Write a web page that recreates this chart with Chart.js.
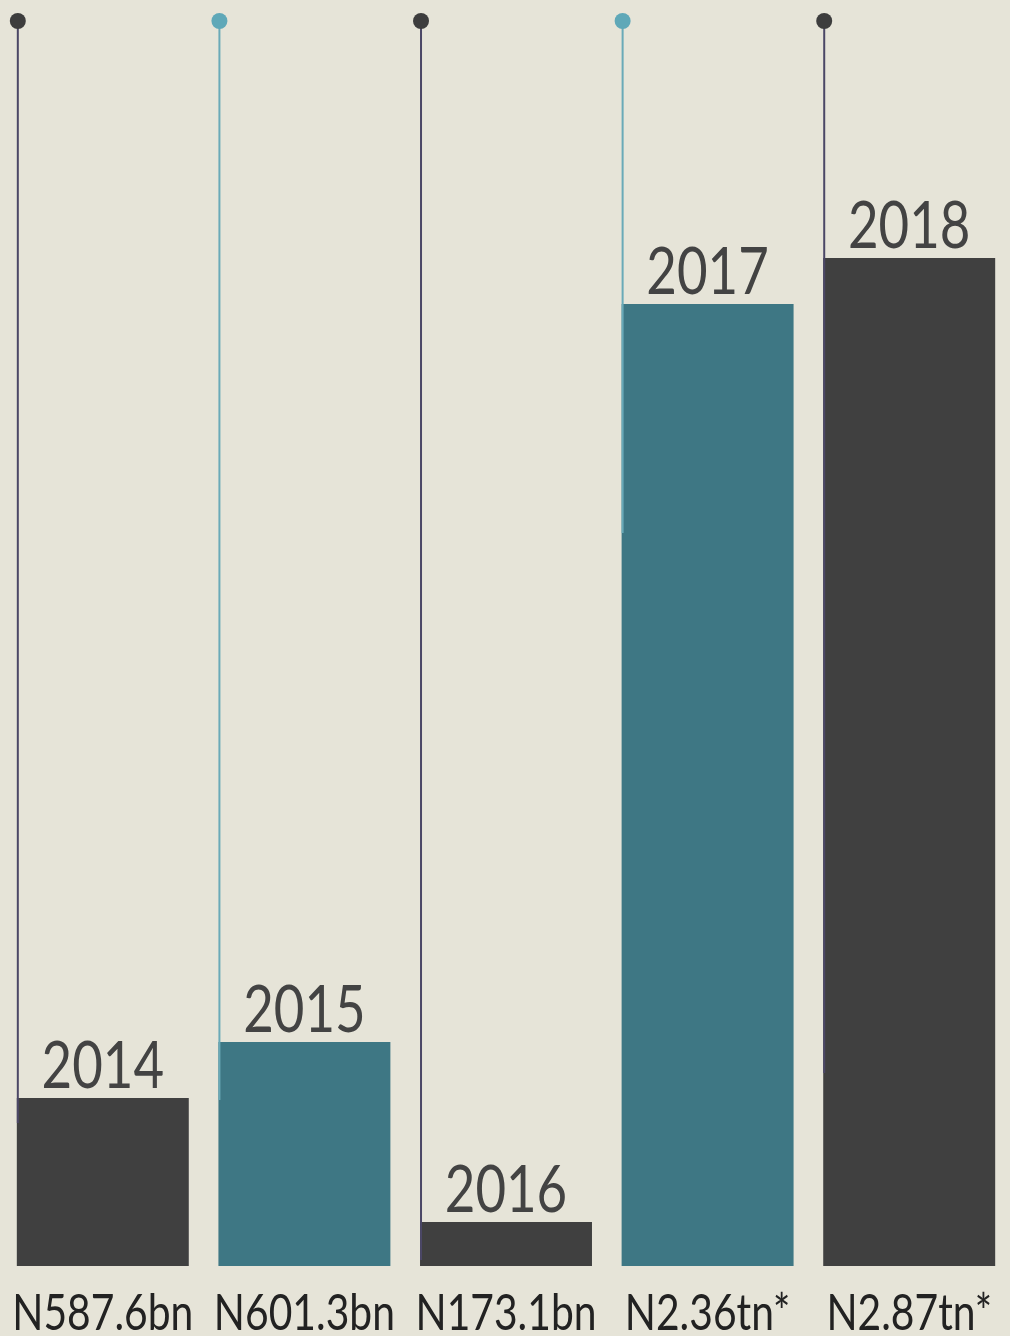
<!DOCTYPE html>
<html>
<head>
<meta charset="utf-8">
<script src="https://cdn.jsdelivr.net/npm/chart.js@4.4.1/dist/chart.umd.min.js"></script>
<style>
    html, body { margin: 0; padding: 0; background: #e6e4d8; }
    #wrap { width: 1010px; height: 1336px; position: relative; }
</style>
</head>
<body>
<div id="wrap"><canvas id="myChart"></canvas></div>
<script>
const years = ['2014', '2015', '2016', '2017', '2018'];
const valueLabels = ['N587.6bn', 'N601.3bn', 'N173.1bn', 'N2.36tn*', 'N2.87tn*'];
// bar heights as drawn in the picture (not to scale with the amounts)
const barHeights = [168, 224, 44, 962, 1008];
// where each marker stick starts and stops, same units
const stickTop = 1245;
const stickEnds = [143, 166, 6, 733, 193];

const barColors = ['#404040', '#3e7784', '#404040', '#3e7784', '#404040'];
const stickColors = ['#4b4766', '#6aaab8', '#4b4766', '#6aaab8', '#4b4766'];
const dotColors = ['#3d3d3d', '#5fa8b8', '#3d3d3d', '#5fa8b8', '#3d3d3d'];

const FONT = 'Lato, "DejaVu Sans Condensed", sans-serif';
const SQUEEZE = 0.8;   // no condensed face installed, so squash horizontally

const drawSqueezed = (ctx, text, x, y) => {
    ctx.save();
    ctx.translate(x, y);
    ctx.scale(SQUEEZE, 1);
    ctx.fillText(text, 0, 0);
    ctx.restore();
};

const sticksAndLabels = {
    id: 'sticksAndLabels',
    afterDatasetsDraw: (chart) => {
        const ctx = chart.ctx;
        const yScale = chart.scales.y;
        const bars = chart.getDatasetMeta(0).data;
        const base = chart.chartArea.bottom;
        ctx.save();
        bars.forEach((bar, i) => {
            const x = bar.x - bar.width / 2 + 1;
            const top = yScale.getPixelForValue(stickTop);
            const bottom = yScale.getPixelForValue(stickEnds[i]);
            ctx.strokeStyle = stickColors[i];
            ctx.lineWidth = 2;
            ctx.beginPath();
            ctx.moveTo(x, top);
            ctx.lineTo(x, bottom);
            ctx.stroke();
            ctx.fillStyle = dotColors[i];
            ctx.beginPath();
            ctx.arc(x, top, 8, 0, Math.PI * 2);
            ctx.fill();

            ctx.textAlign = 'center';
            ctx.textBaseline = 'alphabetic';

            ctx.fillStyle = '#434343';
            ctx.font = '66px ' + FONT;
            drawSqueezed(ctx, years[i], bar.x, bar.y - 10);

            ctx.fillStyle = '#222222';
            ctx.font = '51px ' + FONT;
            drawSqueezed(ctx, valueLabels[i], bar.x, base + 64);
        });
        ctx.restore();
    }
};

const ctx = document.getElementById('myChart').getContext('2d');

const data = {
    labels: years,
    datasets: [{
        label: 'Amount',
        data: barHeights,
        backgroundColor: barColors,
        borderWidth: 0,
        barPercentage: 1,
        categoryPercentage: 0.853,
    }]
};

const chart = new Chart(ctx, {
    type: 'bar',
    data: data,
    plugins: [sticksAndLabels],
    options: {
        responsive: true,
        maintainAspectRatio: false,
        animation: false,
        layout: { padding: { top: 16, left: 2, right: 0, bottom: 70 } },
        plugins: {
            legend: { display: false },
            tooltip: { enabled: false },
        },
        scales: {
            x: { display: false },
            y: {
                display: false,
                min: 0,
                max: 1250,
            }
        }
    }
});
</script>
</body>
</html>
